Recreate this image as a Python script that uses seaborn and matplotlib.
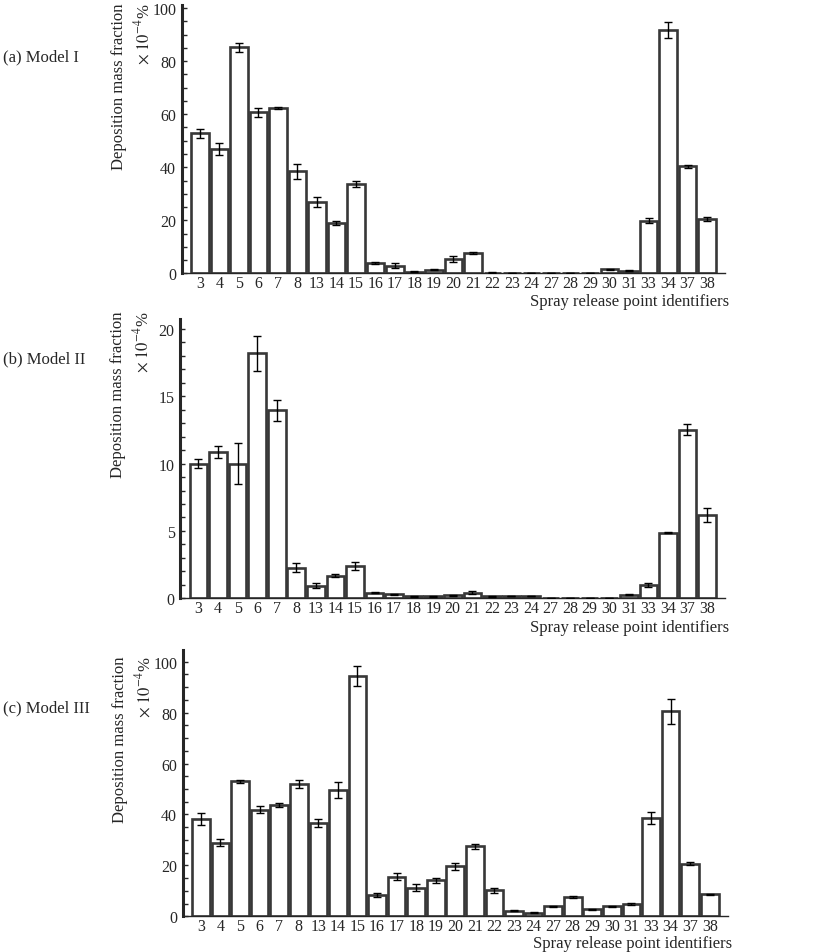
import numpy as np
import pandas as pd
import seaborn as sns
import matplotlib
matplotlib.use("Agg")
import matplotlib.pyplot as plt
from matplotlib.ticker import MultipleLocator

# release point identifiers (x categories)
points = ["3", "4", "5", "6", "7", "8", "13", "14", "15", "16", "17", "18", "19",
          "20", "21", "22", "23", "24", "27", "28", "29", "30", "31", "33", "34",
          "37", "38"]

# deposition mass fraction (x 10^-4 %)
model1 = [52.8, 46.9, 85.3, 60.8, 62.4, 38.5, 26.9, 19.0, 33.7, 3.9, 2.9, 0.6, 1.4,
          5.4, 7.7, 0.3, 0, 0, 0, 0, 0, 1.5, 1.0, 19.9, 91.8, 40.4, 20.5]
model1_err = [1.7, 2.2, 1.7, 1.7, 0.3, 2.8, 2.0, 0.8, 1.2, 0.3, 0.9, 0.2, 0.3,
              1.0, 0.3, 0.1, 0, 0, 0, 0, 0, 0.3, 0.2, 1.0, 3.0, 0.6, 0.6]

model2 = [10.0, 10.84, 10.0, 18.2, 13.94, 2.28, 0.94, 1.68, 2.43, 0.42, 0.3, 0.15,
          0.15, 0.22, 0.42, 0.15, 0.17, 0.17, 0, 0, 0, 0, 0.25, 0.99, 4.88, 12.52, 6.2]
model2_err = [0.32, 0.43, 1.5, 1.3, 0.8, 0.35, 0.2, 0.12, 0.3, 0.05, 0.05, 0.03,
              0.03, 0.04, 0.1, 0.03, 0.03, 0.03, 0, 0, 0, 0, 0.04, 0.15, 0.05, 0.4, 0.5]

model3 = [38.2, 28.9, 53.1, 41.9, 43.8, 52.0, 36.8, 49.7, 94.4, 8.5, 15.6, 11.3,
          14.1, 19.6, 27.5, 10.2, 2.2, 1.4, 3.9, 7.5, 2.7, 3.9, 4.7, 38.5, 80.5, 20.7, 8.6]
model3_err = [2.4, 1.3, 0.6, 1.5, 0.8, 1.5, 1.6, 3.1, 4.0, 0.8, 1.5, 1.3, 1.1, 1.4,
              1.0, 0.9, 0.3, 0.3, 0.3, 0.3, 0.3, 0.3, 0.4, 2.3, 5.0, 0.5, 0.3]

panel_titles = ["(a) Model I", "(b) Model II", "(c) Model III"]

sns.set_style("ticks")
plt.rcParams["font.family"] = ["Liberation Serif", "DejaVu Serif"]
plt.rcParams["mathtext.fontset"] = "stix"

fig = plt.figure(figsize=(8.36, 9.53), dpi=100)

W, H = 836, 953
# axes boxes in pixels: left, top, right, bottom
boxes = [(181.7, 6.0, 725.0, 274.3),
         (180.3, 320.0, 725.0, 599.3),
         (182.7, 650.7, 727.7, 917.3)]
ylims = [101.2, 20.73, 104.7]
majors = [20, 5, 20]
minors = [5, 1, 5]
title_y = [57, 359, 708]
ylab_top = [1.01, 1.03, 0.978]

series = [(model1, model1_err), (model2, model2_err), (model3, model3_err)]

for i, (vals, errs) in enumerate(series):
    l, t, r, b = boxes[i]
    ax = fig.add_axes([l / W, 1 - b / H, (r - l) / W, (b - t) / H])
    df = pd.DataFrame({"point": points, "value": vals})
    sns.barplot(data=df, x="point", y="value", order=points, color="white",
                edgecolor="#383838", linewidth=1.9, width=0.9, ax=ax,
                errorbar=None, saturation=1)
    ax.errorbar(np.arange(len(points)), vals, yerr=errs, fmt="none",
                ecolor="black", elinewidth=1.0, capsize=2.6, capthick=1.0, zorder=5)

    ax.set_xlim(-0.93, len(points) - 0.5 + 0.42)
    ax.set_ylim(0, ylims[i])
    ax.yaxis.set_major_locator(MultipleLocator(majors[i]))
    ax.yaxis.set_minor_locator(MultipleLocator(minors[i]))
    ax.tick_params(axis="y", which="both", direction="in", length=3.5, width=1.0,
                   labelsize=11.5, pad=4)
    ax.tick_params(axis="x", length=0, labelsize=11.5, pad=1.5)
    for s in ["top", "right"]:
        ax.spines[s].set_visible(False)
    ax.spines["left"].set_linewidth(2.2)
    ax.spines["bottom"].set_linewidth(1.0)
    ax.set_xlabel("")
    ax.set_ylabel("")

    ax.text(-0.115, ylab_top[i], "Deposition mass fraction", transform=ax.transAxes,
            rotation=90, ha="center", va="top", fontsize=12)
    ax.text(-0.071, ylab_top[i], r"$\times\ 10^{-4}$%", transform=ax.transAxes,
            rotation=90, ha="center", va="top", fontsize=12)
    ax.text(1.008, -0.102, "Spray release point identifiers", transform=ax.transAxes,
            ha="right", va="center", fontsize=12)

    fig.text(3 / W, 1 - title_y[i] / H, panel_titles[i], ha="left", va="center",
             fontsize=12)

fig.savefig("out.png", dpi=100)
